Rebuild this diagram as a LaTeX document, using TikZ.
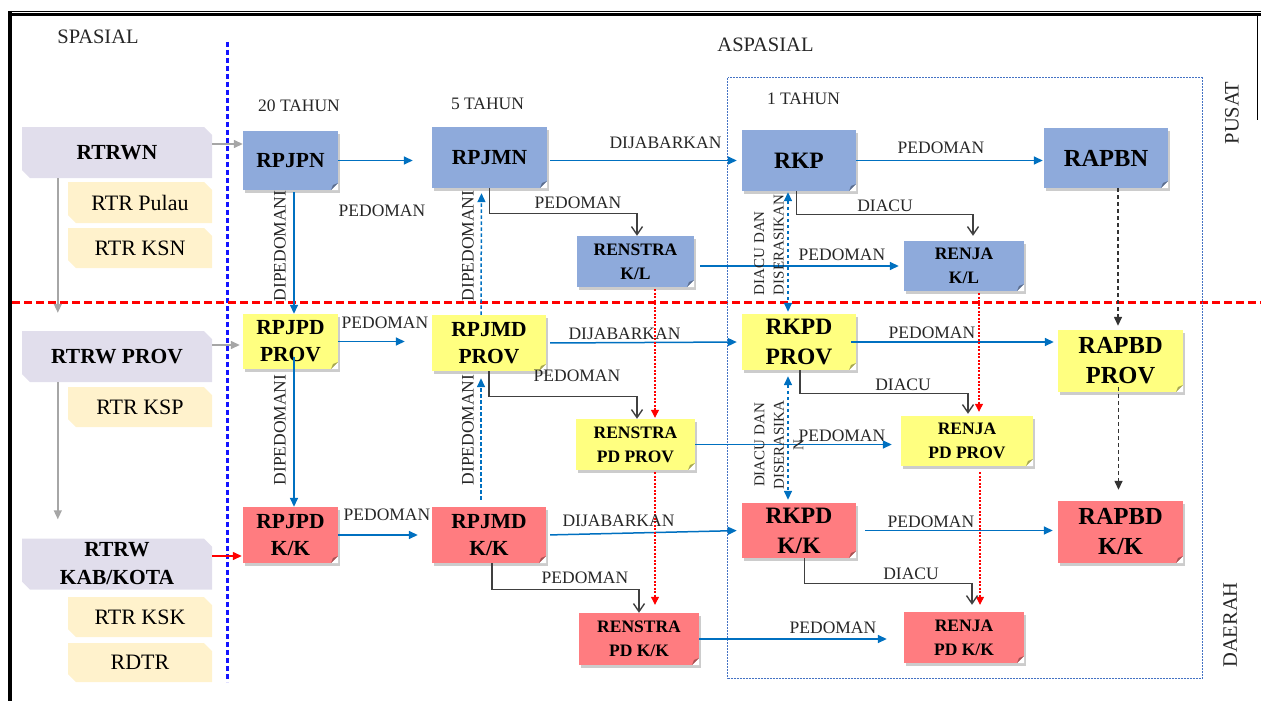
\documentclass[tikz,border=0pt]{standalone}
\usepackage{fontspec}
\setmainfont{Liberation Serif}
\usetikzlibrary{arrows.meta, shadows, calc}
\definecolor{planblue}{RGB}{142,170,219}
\definecolor{planyellow}{RGB}{255,255,128}
\definecolor{planred}{RGB}{255,124,128}
\definecolor{spacelilac}{RGB}{225,222,236}
\definecolor{spacecream}{RGB}{255,242,204}
\definecolor{linkblue}{RGB}{0,112,192}
\definecolor{framedot}{RGB}{68,114,196}
\definecolor{elbowgray}{RGB}{64,64,64}
\definecolor{splitblue}{RGB}{20,20,255}
\definecolor{splitred}{RGB}{255,0,0}
\tikzset{
  planbox/.style={fill=#1, inner sep=0pt, align=center, text=black,
    drop shadow={shadow xshift=1.5pt, shadow yshift=-2.5pt, opacity=0.4},
    path picture={
      \fill[white] ([xshift=-7pt]path picture bounding box.south east) -- (path picture bounding box.south east)
        -- ([yshift=7pt]path picture bounding box.south east) -- cycle;
      \fill[#1!65!black] ([xshift=-7pt]path picture bounding box.south east) -- ([yshift=7pt]path picture bounding box.south east)
        -- ([xshift=-5pt,yshift=5pt]path picture bounding box.south east) -- cycle;
    }},
  spacebox/.style={inner sep=0pt, align=center, text=black,
    path picture={
      \fill[#1] (path picture bounding box.north west) -- ([xshift=-8pt]path picture bounding box.north east)
        -- ([yshift=-8pt]path picture bounding box.north east) -- (path picture bounding box.south east)
        -- ([xshift=8pt]path picture bounding box.south west) -- ([yshift=8pt]path picture bounding box.south west) -- cycle;
    }},
  longfont/.style={font=\fontsize{21.5}{27}\selectfont\bfseries},
  yearfont/.style={font=\fontsize{23.5}{30}\selectfont\bfseries},
  budgetfont/.style={font=\fontsize{24.5}{30}\selectfont\bfseries},
  unitfont/.style={font=\fontsize{17.5}{24}\selectfont\bfseries},
  lilacfont/.style={font=\fontsize{21.5}{28}\selectfont\bfseries},
  creamfont/.style={font=\fontsize{22}{26}\selectfont},
  heading/.style={font=\fontsize{20.5}{24}\selectfont, text=black!85, inner sep=0pt},
  period/.style={font=\fontsize{17.5}{20}\selectfont, text=black!85, inner sep=0pt},
  linklbl/.style={font=\fontsize{17.5}{20}\selectfont, text=black!85, inner sep=0pt},
  synclbl/.style={font=\fontsize{15}{19.5}\selectfont, text=black!85, inner sep=0pt, rotate=90},
  flow/.style={draw=linkblue, line width=1.5pt, -{Triangle[length=9pt,width=8pt]}},
  guide/.style={flow, dash pattern=on 3.5pt off 2.5pt},
  sync/.style={draw=linkblue, line width=1.5pt, dash pattern=on 3.5pt off 2.5pt,
    {Triangle[length=9pt,width=8pt]}-{Triangle[length=9pt,width=8pt]}},
  refer/.style={draw=elbowgray, line width=1.4pt, -{Straight Barb[length=8pt,width=11pt]}},
  cascade/.style={draw=splitred, line width=1.1pt, dash pattern=on 2pt off 1.5pt, -{Triangle[length=8pt,width=8pt]}},
  budget/.style={draw=black!80, line width=1.4pt, dash pattern=on 4pt off 3pt, -{Triangle[length=9pt,width=8pt]}},
  spaceflow/.style={draw=black!35, line width=1.4pt, -{Triangle[length=9pt,width=8pt]}},
}
\begin{document}
\begin{tikzpicture}[x=1pt, y=-1pt]
\useasboundingbox (0,0) rectangle (1261,701);
% frame and dividers
\draw[line width=1.2pt] (8,11.5) -- (1261,11.5);
\draw[line width=3pt] (8,15) -- (1261,15);
\draw[line width=4.5pt] (10,11) -- (10,701);
\draw[line width=1pt] (1257.5,15) -- (1257.5,120);
\draw[splitblue, line width=2.4pt, dash pattern=on 5pt off 3pt] (227.5,42) -- (227.5,682);
\draw[splitred, line width=2.4pt, dash pattern=on 8pt off 4pt] (12,302.5) -- (1261,302.5);
\draw[framedot, line width=1pt, dash pattern=on 2pt off 1pt] (727.5,78) rectangle (1202,678);

% headings
\node[heading] (spasial) at (98,37) {SPASIAL};
\node[heading] (aspasial) at (765.5,45) {ASPASIAL};
\node[heading, rotate=90] (pusat) at (1232,113) {PUSAT};
\node[heading, rotate=90] (daerah) at (1230,625) {DAERAH};
\node[period] (tahun20) at (299,106) {20 TAHUN};
\node[period] (tahun5) at (487.5,104) {5 TAHUN};
\node[period] (tahun1) at (803.5,99) {1 TAHUN};

% spasial column
\node[spacebox=spacelilac, lilacfont, minimum width=190pt, minimum height=51pt] (rtrwn) at (117,152.5) {RTRWN};
\node[spacebox=spacecream, creamfont, minimum width=144pt, minimum height=41pt] (rtrpulau) at (140,202.5) {RTR Pulau};
\node[spacebox=spacecream, creamfont, minimum width=144pt, minimum height=40pt] (rtrksn) at (140,248) {RTR KSN};
\node[spacebox=spacelilac, lilacfont, minimum width=190pt, minimum height=51pt] (rtrwprov) at (117,356.5) {RTRW PROV};
\node[spacebox=spacecream, creamfont, minimum width=144pt, minimum height=40pt] (rtrksp) at (140,407) {RTR KSP};
\node[spacebox=spacelilac, lilacfont, minimum width=190pt, minimum height=51pt] (rtrwkk) at (117,564) {RTRW\\KAB/KOTA};
\node[spacebox=spacecream, creamfont, minimum width=144pt, minimum height=40pt] (rtrksk) at (140,617) {RTR KSK};
\node[spacebox=spacecream, creamfont, minimum width=144pt, minimum height=39pt] (rdtr) at (140,662.5) {RDTR};

% pusat row
\node[planbox=planblue, longfont, minimum width=95pt, minimum height=59pt] (rpjpn) at (290.5,160.5) {RPJPN};
\node[planbox=planblue, longfont, minimum width=115pt, minimum height=61pt] (rpjmn) at (489.5,157.5) {RPJMN};
\node[planbox=planblue, yearfont, minimum width=114pt, minimum height=61pt] (rkp) at (799,160.5) {RKP};
\node[planbox=planblue, budgetfont, minimum width=124pt, minimum height=60pt] (rapbn) at (1106,158) {RAPBN};
\node[planbox=planblue, unitfont, minimum width=117pt, minimum height=51pt] (renstrakl) at (635.5,261.5) {RENSTRA\\K/L};
\node[planbox=planblue, unitfont, minimum width=120pt, minimum height=50pt] (renjakl) at (964,266) {RENJA\\K/L};

% provinsi row
\node[planbox=planyellow, longfont, minimum width=95pt, minimum height=55pt] (rpjpdprov) at (290.5,341.5) {RPJPD\\PROV};
\node[planbox=planyellow, longfont, minimum width=114pt, minimum height=56pt] (rpjmdprov) at (489,343) {RPJMD\\PROV};
\node[planbox=planyellow, yearfont, minimum width=114pt, minimum height=56pt] (rkpdprov) at (799,342) {RKPD\\PROV};
\node[planbox=planyellow, budgetfont, minimum width=125pt, minimum height=62pt] (rapbdprov) at (1120.5,361) {RAPBD\\PROV};
\node[planbox=planyellow, unitfont, minimum width=119pt, minimum height=51pt] (renstrapdprov) at (635.5,444.5) {RENSTRA\\PD PROV};
\node[planbox=planyellow, unitfont, minimum width=132pt, minimum height=50pt] (renjapdprov) at (967,441) {RENJA\\PD PROV};

% kab/kota row
\node[planbox=planred, longfont, minimum width=95pt, minimum height=56pt] (rpjpdkk) at (290.5,535) {RPJPD\\K/K};
\node[planbox=planred, longfont, minimum width=114pt, minimum height=56pt] (rpjmdkk) at (489,535) {RPJMD\\K/K};
\node[planbox=planred, yearfont, minimum width=114pt, minimum height=55pt] (rkpdkk) at (799,530.5) {RKPD\\K/K};
\node[planbox=planred, budgetfont, minimum width=125pt, minimum height=62pt] (rapbdkk) at (1120.5,532) {RAPBD\\K/K};
\node[planbox=planred, unitfont, minimum width=120pt, minimum height=52pt] (renstrapdkk) at (639,639) {RENSTRA\\PD K/K};
\node[planbox=planred, unitfont, minimum width=120pt, minimum height=51pt] (renjapdkk) at (964,637.5) {RENJA\\PD K/K};

% spasial links
\draw[spaceflow] ([yshift=8.5pt]rtrwn.east) -- ([yshift=8.5pt]rtrwn.east -| rpjpn.west);
\draw[spaceflow, shorten >=3pt] ([yshift=11.5pt]rtrwprov.east) -- ([yshift=11.5pt]rtrwprov.east -| rpjpdprov.west);
\draw[spaceflow, draw=splitred, shorten >=1pt] ([yshift=8pt]rtrwkk.east) -- ([yshift=8pt]rtrwkk.east -| rpjpdkk.west);
\draw[spaceflow, shorten >=18pt] ([xshift=36pt]rtrwn.south west) -- ([xshift=36pt]rtrwprov.north west);
\draw[spaceflow, shorten >=19pt] ([xshift=36pt]rtrwprov.south west) -- ([xshift=36pt]rtrwkk.north west);

% horizontal flows
\draw[flow, shorten >=19pt] (rpjpn.east) -- (rpjpn.east -| rpjmn.west);
\draw[flow, shorten <=3pt, shorten >=5pt] (rpjmn.east |- rkp) -- (rkp.west);
\draw[flow, shorten >=1pt] (rkp.east) -- (rkp.east -| rapbn.west);
\draw[flow, shorten >=27pt] (rpjpdprov.east) -- (rpjpdprov.east -| rpjmdprov.west);
\draw[flow, shorten <=4pt, shorten >=5pt] (rpjmdprov.east) -- (rkpdprov.west);
\draw[flow, shorten <=-5pt, shorten >=4pt] (rkpdprov.east) -- (rkpdprov.east -| rapbdprov.west);
\draw[flow, shorten >=14pt] (rpjpdkk.east) -- (rpjpdkk.east -| rpjmdkk.west);
\draw[flow, shorten <=4pt, shorten >=5pt] (rpjmdkk.east) -- (rkpdkk.west);
\draw[flow, shorten <=9pt, shorten >=5pt] (rkpdkk.east) -- (rkpdkk.east -| rapbdkk.west);
\draw[flow, shorten <=6pt, shorten >=5pt] (renstrakl.east |- renjakl) -- (renjakl.west);
\draw[flow, shorten >=9pt] (renstrapdprov.east) -- (renstrapdprov.east -| renjapdprov.west);
\draw[flow, shorten >=17pt] (renstrapdkk.east) -- (renstrapdkk.east -| renjapdkk.west);

% vertical links
\draw[flow, shorten <=2pt] ([xshift=3.5pt]rpjpn.south) -- ([xshift=3.5pt]rpjpdprov.north);
\draw[flow, shorten <=-12pt] ([xshift=3.5pt]rpjpdprov.south) -- ([xshift=3.5pt]rpjpdkk.north);
\draw[guide, shorten >=5pt] ([xshift=-8pt]rpjmdprov.north) -- ([xshift=-8pt]rpjmn.south);
\draw[guide, shorten <=7pt, shorten >=7pt] ([xshift=-8pt]rpjmdkk.north) -- ([xshift=-8pt]rpjmdprov.south);
\draw[sync, shorten <=1pt, shorten >=2pt] ([xshift=-11pt]rkp.south) -- ([xshift=-11pt]rkpdprov.north);
\draw[sync, shorten <=6pt, shorten >=3pt] ([xshift=-11pt]rkpdprov.south) -- ([xshift=-11pt]rkpdkk.north);
\draw[budget, shorten >=4pt] ([xshift=-2.5pt]rapbdprov.north |- rapbn.south) -- ([xshift=-2.5pt]rapbdprov.north);
\draw[budget, shorten <=-5pt, shorten >=11pt] ([xshift=-2pt]rapbdprov.south) -- ([xshift=-2pt]rapbdkk.north);
\draw[cascade, shorten <=2pt, shorten >=1pt] ([xshift=19.5pt]renstrakl.south) -- ([xshift=19.5pt]renstrapdprov.north);
\draw[cascade, shorten <=2pt, shorten >=8pt] ([xshift=19.5pt]renstrapdprov.south) -- ([xshift=19.5pt]renstrapdprov.south |- renstrapdkk.north);
\draw[cascade, shorten <=2pt, shorten >=4pt] ([xshift=15pt]renjakl.south) -- ([xshift=15pt]renjakl.south |- renjapdprov.north);
\draw[cascade, shorten <=6pt, shorten >=7pt] ([xshift=13pt]renjapdprov.south) -- ([xshift=13pt]renjapdprov.south |- renjapdkk.north);

% elbow links
\draw[refer] (rpjmn.south) -- ++(0,25) -| ([xshift=1.5pt]renstrakl.north);
\draw[refer] (rpjmdprov.south) -- ++(0,25) -| ([xshift=1.5pt]renstrapdprov.north);
\draw[refer] ([xshift=3pt]rpjmdkk.south) -- ++(0,26) -| (renstrapdkk.north);
\draw[refer, shorten >=5pt] ([xshift=-2.5pt]rkp.south) -- ++(0,23) -| ([xshift=9pt]renjakl.north);
\draw[refer, shorten >=2pt] ([xshift=1pt]rkpdprov.south) -- ++(0,23) -| ([xshift=1pt]renjapdprov.north);
\draw[refer, shorten >=7pt] ([xshift=5.5pt]rkpdkk.south) -- ++(0,25) -| ([xshift=8pt]renjapdkk.north);

% link labels
\node[linklbl] (lblpjpn) at (382,211) {PEDOMAN};
\node[linklbl] (lblpjpdprov) at (385,323) {PEDOMAN};
\node[linklbl] (lblpjpdkk) at (387,515) {PEDOMAN};
\node[linklbl] (lbljmn) at (665.5,143) {DIJABARKAN};
\node[linklbl] (lbljmdprov) at (624.5,334) {DIJABARKAN};
\node[linklbl] (lbljmdkk) at (618.5,521) {DIJABARKAN};
\node[linklbl] (lblrenstrakl) at (578,203) {PEDOMAN};
\node[linklbl] (lblrenstraprov) at (577,376) {PEDOMAN};
\node[linklbl] (lblrenstrakk) at (585,578) {PEDOMAN};
\node[linklbl] (lblrenjakl) at (842,255) {PEDOMAN};
\node[linklbl] (lblrenjaprov) at (842,436) {PEDOMAN};
\node[linklbl] (lblrenjakk) at (833,628) {PEDOMAN};
\node[linklbl] (lbldiacukl) at (885,206) {DIACU};
\node[linklbl] (lbldiacuprov) at (903,385) {DIACU};
\node[linklbl] (lbldiacukk) at (911,574) {DIACU};
\node[linklbl] (lblrapbn) at (941,148) {PEDOMAN};
\node[linklbl] (lblrapbdprov) at (932,333) {PEDOMAN};
\node[linklbl] (lblrapbdkk) at (931,522) {PEDOMAN};
\node[linklbl, rotate=90] (lbldpjpn) at (280,246) {DIPEDOMANI};
\node[linklbl, rotate=90] (lbldpjpdprov) at (280,430) {DIPEDOMANI};
\node[linklbl, rotate=90] (lbldpjmn) at (468,246) {DIPEDOMANI};
\node[linklbl, rotate=90] (lbldpjmdprov) at (468,430) {DIPEDOMANI};
\node[synclbl, align=left] (lblsyncpusat) at (769,245) {DIACU DAN\\DISERASIKAN};
\node[synclbl, align=center] (lblsyncprov) at (779,445) {DIACU DAN\\DISERASIKA\\N};
\end{tikzpicture}
\end{document}
